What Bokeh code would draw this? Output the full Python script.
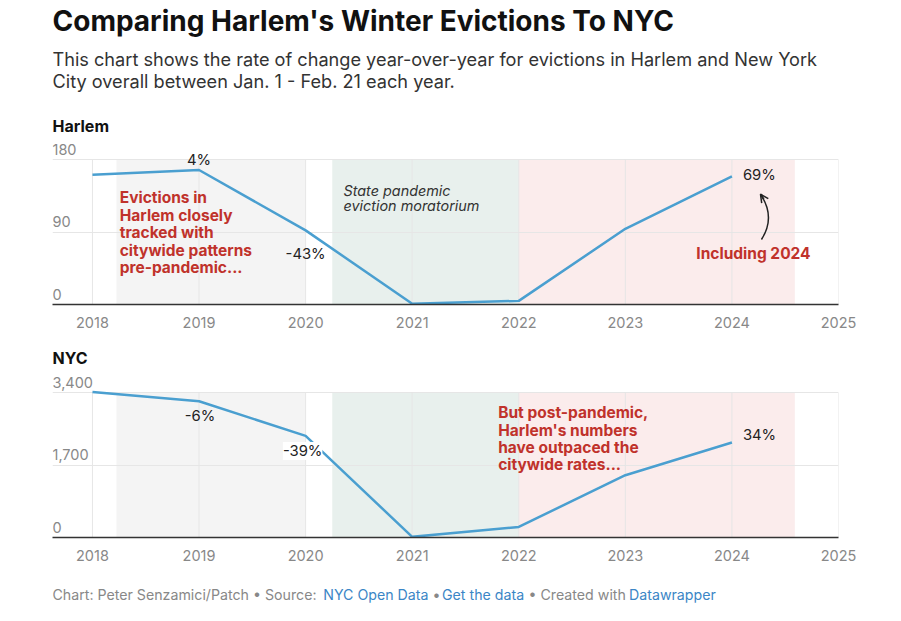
from bokeh.plotting import figure
from bokeh.models import Range1d, FixedTicker, Label, Arrow, OpenHead
from bokeh.layouts import column
from bokeh.embed import file_html
from bokeh.resources import INLINE

# ---- data ----
years = [2018, 2019, 2020, 2021, 2022, 2023, 2024]
harlem = [161, 167, 92, 1, 4.5, 94, 159]
nyc = [3410, 3196, 2382, 15, 249, 1461, 2227]
tick_years = [2018, 2019, 2020, 2021, 2022, 2023, 2024, 2025]
harlem_ticks = [0, 90, 180]
harlem_tick_labels = ["0", "90", "180"]
nyc_ticks = [0, 1700, 3400]
nyc_tick_labels = ["0", "1,700", "3,400"]
band_start = [2018.225, 2020.25, 2022.0]
band_end = [2020.0, 2022.0, 2024.59]
band_colors = ["#f4f4f4", "#e8f0ed", "#fbecec"]
harlem_change_idx = [1, 2, 6]
harlem_changes = ["4%", "-43%", "69%"]
nyc_change_idx = [1, 2, 6]
nyc_changes = ["-6%", "-39%", "34%"]

FONT = "Inter"
RED = "#c0322b"
BLUE = "#4a9fd0"
GRID = "#e6e6e6"
TICK = "#888888"
W = 890
X0, X1 = 2017.625, 2025


def panel(vals, ymax, yview, ticks, tick_labels, height, bottom):
    p = figure(width=W, height=height, output_backend="svg", toolbar_location=None,
               title=None, x_range=Range1d(X0, X1), y_range=Range1d(0, yview),
               min_border_left=52, min_border_right=W - 838, min_border_top=0,
               min_border_bottom=bottom, outline_line_color=None,
               background_fill_color="white", border_fill_color="white")
    p.yaxis.visible = False
    p.xaxis.ticker = FixedTicker(ticks=tick_years)
    p.xaxis.axis_line_color = "#333333"
    p.xaxis.axis_line_width = 1.5
    p.xaxis.major_tick_line_color = None
    p.xaxis.minor_tick_line_color = None
    p.xaxis.major_label_text_font = FONT
    p.xaxis.major_label_text_font_size = "14.5px"
    p.xaxis.major_label_text_color = TICK
    p.xaxis.major_label_standoff = 6
    p.xgrid.visible = False
    p.ygrid.ticker = FixedTicker(ticks=ticks[1:])
    p.ygrid.grid_line_color = GRID
    r = p.quad(left=band_start, right=band_end, bottom=0, top=ymax,
               fill_color=band_colors, line_color=None)
    r.level = "image"
    p.segment(x0=tick_years, y0=0, x1=tick_years, y1=ymax, line_color=GRID, line_width=1)
    p.line(years, vals, line_color=BLUE, line_width=2.5)
    for t, lab in zip(ticks, tick_labels):
        p.add_layout(Label(x=X0, y=t, text=lab, text_font=FONT,
                           text_font_size="14.5px", text_color=TICK,
                           text_align="left", text_baseline="middle", y_offset=10.5))
    return p


# ---------- Harlem ----------
p1 = panel(harlem, 180, 180 * 304 / 145, harlem_ticks, harlem_tick_labels, 338, 34)

p1.add_layout(Label(x=0, y=284, x_units="screen", y_units="screen",
                    text="Comparing Harlem's Winter Evictions To NYC", text_font=FONT,
                    text_font_size="28px", text_font_style="bold", text_color="#111111",
                    text_baseline="middle"))
p1.add_layout(Label(x=0, y=246, x_units="screen", y_units="screen",
                    text="This chart shows the rate of change year-over-year for evictions in Harlem and New York",
                    text_font=FONT, text_font_size="18.15px", text_color="#333333",
                    text_baseline="middle"))
p1.add_layout(Label(x=0, y=224, x_units="screen", y_units="screen",
                    text="City overall between Jan. 1 - Feb. 21 each year.",
                    text_font=FONT, text_font_size="18.15px", text_color="#333333",
                    text_baseline="middle"))
p1.add_layout(Label(x=0, y=179, x_units="screen", y_units="screen", text="Harlem",
                    text_font=FONT, text_font_size="16px", text_font_style="bold",
                    text_color="#111111", text_baseline="middle"))

h_off = [(0, 10, "center"), (0, -24, "center"), (11, 1, "left")]
for i, txt, (dx, dy, al) in zip(harlem_change_idx, harlem_changes, h_off):
    p1.add_layout(Label(x=years[i], y=harlem[i], text=txt, x_offset=dx, y_offset=dy,
                        text_align=al, text_baseline="middle", text_font=FONT,
                        text_font_size="14.8px", text_color="#222222"))

p1.add_layout(Label(x=2018.256, y=89, text="Evictions in\nHarlem closely\ntracked with\ncitywide patterns\npre-pandemic...",
                    text_font=FONT, text_font_size="15.5px", text_font_style="bold",
                    text_color=RED, text_align="left", text_baseline="middle",
                    text_line_height=0.917))
p1.add_layout(Label(x=2020.355, y=132, text="State pandemic\neviction moratorium",
                    text_font=FONT, text_font_size="14.4px", text_font_style="italic",
                    text_color="#333333", text_align="left", text_baseline="middle",
                    text_line_height=0.92))
p1.add_layout(Label(x=2024.202, y=63.7, text="Including 2024",
                    text_font=FONT, text_font_size="15.5px", text_font_style="bold",
                    text_color=RED, text_align="center", text_baseline="middle"))
p1.quadratic(x0=[2024.277], y0=[80.7], x1=[2024.268], y1=[136.9],
             cx=[2024.413], cy=[108.5], line_color="#222222", line_width=1.5)
p1.add_layout(Arrow(end=OpenHead(size=8, line_color="#222222", line_width=1.5),
                    x_start=2024.300, y_start=130.7, x_end=2024.268, y_end=136.9,
                    line_color="#222222", line_width=1.5))

# ---------- NYC ----------
p2 = panel(nyc, 3400, 3400 * 199 / 145, nyc_ticks, nyc_tick_labels, 233, 34)
p2.add_layout(Label(x=0, y=180, x_units="screen", y_units="screen", text="NYC",
                    text_font=FONT, text_font_size="16px", text_font_style="bold",
                    text_color="#111111", text_baseline="middle"))

n_off = [(1, -15, "center", None), (-3, -15, "center", "white"), (11, 8, "left", None)]
for i, txt, (dx, dy, al, bg) in zip(nyc_change_idx, nyc_changes, n_off):
    p2.add_layout(Label(x=years[i], y=nyc[i], text=txt, x_offset=dx, y_offset=dy,
                        text_align=al, text_baseline="middle", text_font=FONT,
                        text_font_size="14.8px", text_color="#222222",
                        background_fill_color=bg))

p2.add_layout(Label(x=2021.807, y=2316, text="But post-pandemic,\nHarlem's numbers\nhave outpaced the\ncitywide rates...",
                    text_font=FONT, text_font_size="15.5px", text_font_style="bold",
                    text_color=RED, text_align="left", text_baseline="middle",
                    text_line_height=0.917))

# ---------- footer ----------
p3 = figure(width=W, height=46, output_backend="svg", toolbar_location=None,
            title=None, x_range=Range1d(0, 1), y_range=Range1d(0, 1),
            x_axis_location=None, y_axis_location=None,
            min_border_left=52, min_border_right=0, min_border_top=0, min_border_bottom=0,
            outline_line_color=None, background_fill_color="white",
            border_fill_color="white")
p3.grid.visible = False
footer = [
    (0, "Chart: Peter Senzamici/Patch • Source:", "#888888"),
    (270.7, "NYC Open Data", "#3b86c6"),
    (380, "•", "#888888"),
    (389.5, "Get the data", "#3b86c6"),
    (476, "• Created with", "#888888"),
    (576.5, "Datawrapper", "#3b86c6"),
]
for fx, txt, col in footer:
    p3.add_layout(Label(x=fx, y=23, x_units="screen", y_units="screen", text=txt,
                        text_font=FONT, text_font_size="14.2px", text_color=col,
                        text_baseline="middle"))

layout = column(p1, p2, p3, spacing=0)
open("out.html", "w").write(file_html(layout, INLINE))
